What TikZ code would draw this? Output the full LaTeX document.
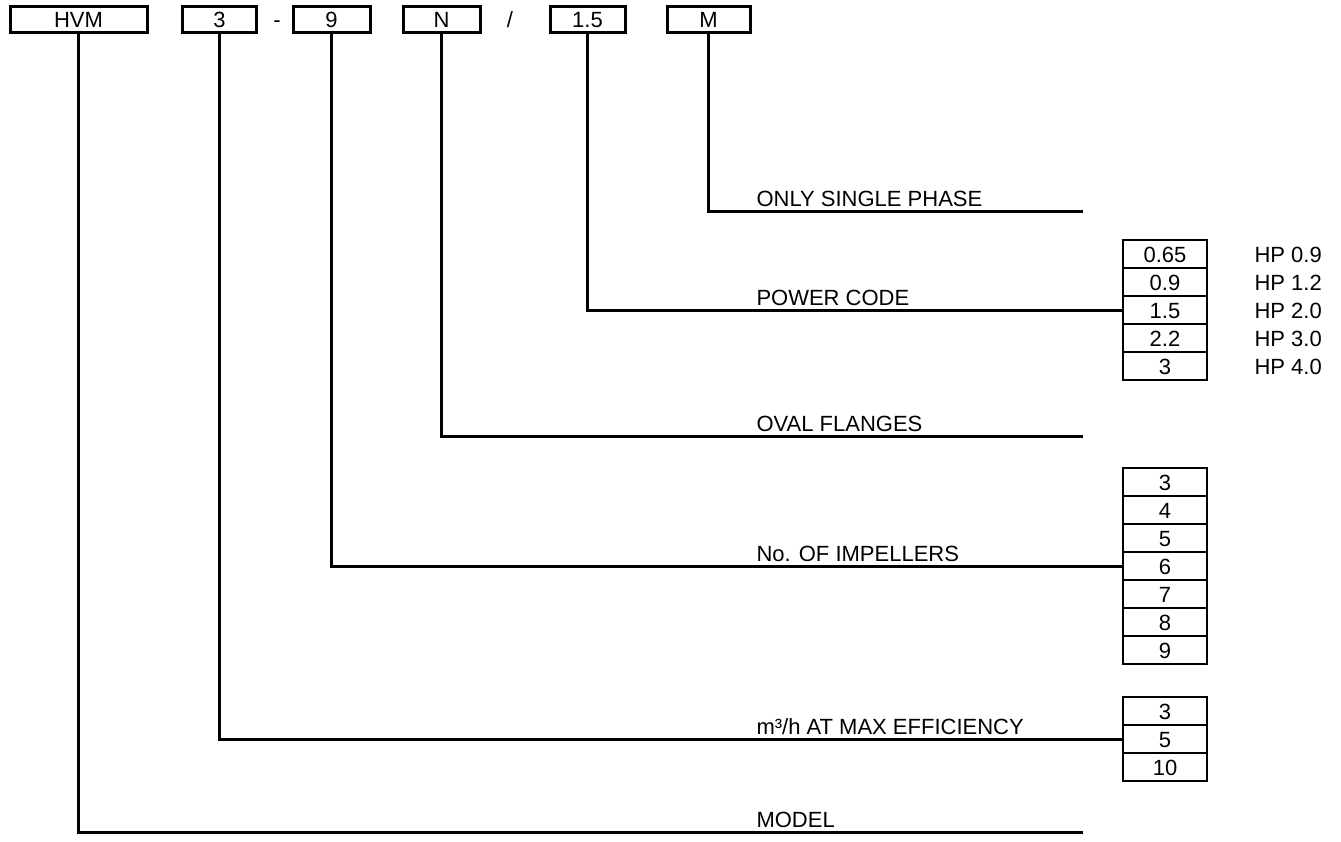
\documentclass[tikz,border=0pt]{standalone}
\usepackage{fontspec}
\setmainfont{Liberation Sans}
\usetikzlibrary{positioning}

\begin{document}
\begin{tikzpicture}[x=1pt, y=-1pt, line width=3pt,
  every node/.style={font=\fontsize{22}{26}\selectfont},
  sep/.style={inner sep=0pt, text height=16pt, text depth=0pt},
  code/.style={sep, draw, line width=3pt, minimum height=26pt},
  cell/.style={sep, draw, line width=2.8pt, minimum width=84pt, minimum height=28pt},
  lbl/.style={anchor=base west, inner sep=0pt},
  hp/.style={sep, anchor=west}]
  \useasboundingbox (0,0) rectangle (1341,841);

  % code boxes
  \node[code, minimum width=137pt] (hvm) at (78.5,19) {HVM};
  \node[code, minimum width=74pt] (flow) at (219.5,19) {3};
  \node[sep] (dash) at (277,19) {-};
  \node[code, minimum width=77pt] (stages) at (331.5,19) {9};
  \node[code, minimum width=77pt] (flange) at (441.5,19) {N};
  \node[sep] (slash) at (510,19) {/};
  \node[code, minimum width=75pt] (power) at (587.5,19) {1.5};
  \node[code, minimum width=83pt] (phase) at (708.5,19) {M};

  % option tables
  \foreach \v [count=\i] in {0.65,0.9,1.5,2.2,3}
    \node[cell] (pc\i) at (1165,{226+28*\i}) {\v};
  \foreach \v [count=\i] in {0.9,1.2,2.0,3.0,4.0}
    \node[hp] (hp\i) at (1253,{226+28*\i}) {HP \v};
  \foreach \v [count=\i] in {3,...,9}
    \node[cell] (imp\i) at (1165,{454+28*\i}) {\v};
  \foreach \v [count=\i] in {3,5,10}
    \node[cell] (fl\i) at (1165,{683+28*\i}) {\v};

  % leaders
  \coordinate (phaseend) at (1083,211);
  \coordinate (flangeend) at (1083,436);
  \coordinate (modelend) at (1083,832);
  \draw (phase.south) |- (phaseend);
  \draw (power.south) |- (pc3.west);
  \draw (flange.south) |- (flangeend);
  \draw (stages.south) |- (imp4.west);
  \draw (flow.south) |- (fl2.west);
  \draw (hvm.south) |- (modelend);

  % labels
  \node[lbl] (phaselbl) at (755,206) {ONLY SINGLE PHASE};
  \node[lbl] (powerlbl) at (755,305) {POWER CODE};
  \node[lbl] (flangelbl) at (755,431) {OVAL FLANGES};
  \node[lbl] (stageslbl) at (755,561) {No. OF IMPELLERS};
  \node[lbl] (flowlbl) at (755,734) {m³/h AT MAX EFFICIENCY};
  \node[lbl] (modellbl) at (755,827) {MODEL};
\end{tikzpicture}
\end{document}
